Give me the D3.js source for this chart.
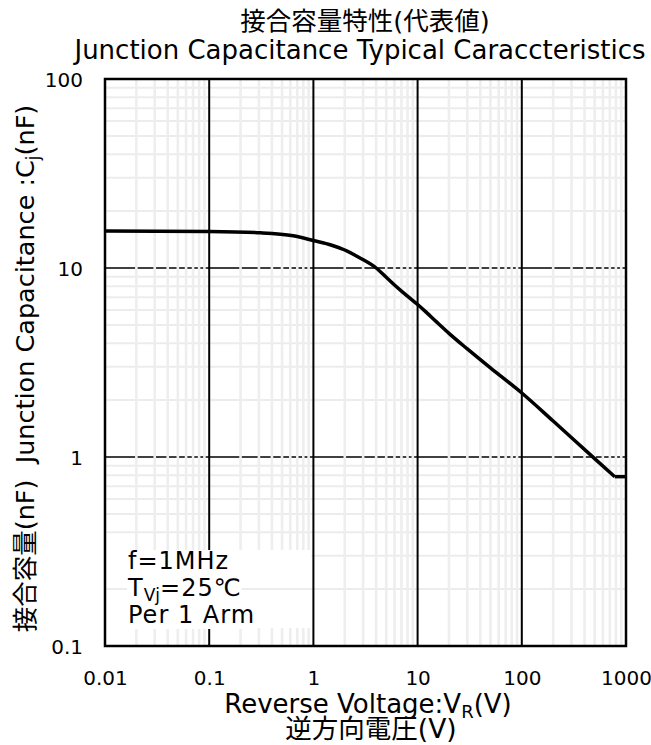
<!DOCTYPE html>
<html>
<head>
<meta charset="utf-8">
<script src="https://cdn.jsdelivr.net/npm/d3@7"></script>
<style>
  body { margin: 0; background: #fff; }
  text { font-family: "DejaVu Sans", "Noto Sans CJK JP", sans-serif; fill: #000; white-space: pre; }
</style>
</head>
<body>
<svg id="chart"></svg>
<script>
// reverse voltage (V) and junction capacitance (nF)
const voltage = [0.01, 0.1, 0.31, 0.64, 1, 1.5, 2, 2.8, 4, 5, 6, 7, 8, 10, 12, 15, 20, 30, 50, 100, 200, 500, 780, 1000];
const capacitance = [15.7, 15.6, 15.35, 14.8, 13.97, 13.2, 12.45, 11.3, 10.0, 8.93, 8.13, 7.55, 7.1, 6.41, 5.86, 5.22, 4.51, 3.73, 2.96, 2.18, 1.55, 0.98, 0.787, 0.787];

const xTicks = [0.01, 0.1, 1, 10, 100, 1000];
const yTicks = [0.1, 1, 10, 100];
const xTickLabels = ["0.01", "0.1", "1", "10", "100", "1000"];
const yTickLabels = ["0.1", "1", "10", "100"];
const conditions = ["f=1MHz", "T|Vj|=25℃", "Per 1 Arm"];

const canvWidth = 651;
const canvHeight = 745;
const margin = { top: 79, right: 25, bottom: 99, left: 105 };
const width = canvWidth - margin.left - margin.right;
const height = canvHeight - margin.top - margin.bottom;

const svg = d3.select("#chart")
    .attr("width", canvWidth)
    .attr("height", canvHeight);

const x = d3.scaleLog().domain([0.01, 1000]).range([margin.left, margin.left + width]);
const y = d3.scaleLog().domain([0.1, 100]).range([margin.top + height, margin.top]);

// minor values 2..9 in every decade
function minors(lo, hi) {
    const out = [];
    for (let p = lo; p < hi; p *= 10) {
        for (let k = 2; k <= 9; k++) out.push(+(k * p).toPrecision(3));
    }
    return out;
}
const xMinor = minors(0.01, 1000);
const yMinor = minors(0.1, 100);

const grid = svg.append("g");

// horizontal minor grid
grid.selectAll(".hmin").data(yMinor).enter().append("line")
    .attr("x1", x(0.01)).attr("x2", x(1000))
    .attr("y1", d => y(d)).attr("y2", d => y(d))
    .attr("stroke", "#ececec").attr("stroke-width", 2);

// horizontal major grid (black, broken by the vertical minor lines drawn after it)
grid.selectAll(".hmaj").data([1, 10]).enter().append("line")
    .attr("x1", x(0.01)).attr("x2", x(1000))
    .attr("y1", d => y(d)).attr("y2", d => y(d))
    .attr("stroke", "#000").attr("stroke-width", 1.6);

// vertical minor grid
grid.selectAll(".vmin").data(xMinor).enter().append("line")
    .attr("x1", d => x(d)).attr("x2", d => x(d))
    .attr("y1", y(100)).attr("y2", y(0.1))
    .attr("stroke", "#eeeeee").attr("stroke-width", 2.6);

// vertical major grid
grid.selectAll(".vmaj").data([0.1, 1, 10, 100]).enter().append("line")
    .attr("x1", d => x(d)).attr("x2", d => x(d))
    .attr("y1", y(100)).attr("y2", y(0.1))
    .attr("stroke", "#000").attr("stroke-width", 2);

// conditions box
const box = svg.append("g");
box.append("rect")
    .attr("x", x(0.01)).attr("y", 550)
    .attr("width", x(1) - 2 - x(0.01)).attr("height", 78)
    .attr("fill", "#fff");
box.append("line")
    .attr("x1", x(0.01)).attr("x2", x(1) - 2)
    .attr("y1", y(0.2)).attr("y2", y(0.2))
    .attr("stroke", "#ececec").attr("stroke-width", 2);

const condText = box.selectAll(".cond").data(conditions).enter().append("text")
    .attr("x", 128)
    .attr("y", (d, i) => 569 + i * 27)
    .style("font-size", "24px")
    .style("letter-spacing", "1px");
condText.each(function (d) {
    const t = d3.select(this);
    const parts = d.split("|");
    if (parts.length === 1) { t.text(d); return; }
    t.append("tspan").text(parts[0]);
    t.append("tspan").attr("dy", 5).style("font-size", "17px").style("letter-spacing", "0px").text(parts[1]);
    t.append("tspan").attr("dy", -5).text(parts[2]);
});
condText.each(function () {
    const b = this.getBBox();
    box.insert("rect", "text")
        .attr("x", b.x).attr("y", b.y + 4)
        .attr("width", b.width).attr("height", b.height - 4)
        .attr("fill", "#fff");
});

// plot border
svg.append("rect")
    .attr("x", x(0.01)).attr("y", y(100))
    .attr("width", width).attr("height", height)
    .attr("fill", "none").attr("stroke", "#000").attr("stroke-width", 2.5);

// curve: smooth part, then the flat tail
const data = voltage.map((v, i) => ({ v: v, c: capacitance[i] }));
const line = d3.line().x(d => x(d.v)).y(d => y(d.c));
svg.append("path")
    .datum(data.slice(0, data.length - 1))
    .attr("fill", "none")
    .attr("stroke", "#000")
    .attr("stroke-width", 3.5)
    .attr("d", line.curve(d3.curveMonotoneX));
svg.append("path")
    .datum(data.slice(data.length - 2))
    .attr("fill", "none")
    .attr("stroke", "#000")
    .attr("stroke-width", 3.5)
    .attr("d", line.curve(d3.curveLinear));

// axes (labels only, lines are the grid)
const xAxis = svg.append("g")
    .attr("transform", "translate(0," + (y(0.1) + 39) + ")")
    .call(d3.axisBottom(x).tickValues(xTicks).tickFormat((d, i) => xTickLabels[i]).tickSize(0));
const yAxis = svg.append("g")
    .attr("transform", "translate(" + (x(0.01) - 22) + ",0)")
    .call(d3.axisLeft(y).tickValues(yTicks).tickFormat((d, i) => yTickLabels[i]).tickSize(0));
[xAxis, yAxis].forEach(a => {
    a.select(".domain").remove();
    a.selectAll("text").style("font-size", "20px").style("font-family", "'DejaVu Sans', sans-serif");
});
xAxis.selectAll("text").attr("dy", 0).attr("y", 0);
yAxis.selectAll("text").attr("x", 0).attr("dy", "0.36em");

// titles
svg.append("text")
    .attr("x", 365).attr("y", 30)
    .attr("text-anchor", "middle").style("font-size", "25.5px")
    .text("接合容量特性(代表値)");
svg.append("text")
    .attr("x", 360).attr("y", 59)
    .attr("text-anchor", "middle").style("font-size", "26px")
    .text("Junction Capacitance Typical Caraccteristics");

// x axis title
const xt = svg.append("text")
    .attr("x", 368).attr("y", 713)
    .attr("text-anchor", "middle").style("font-size", "26px");
xt.append("tspan").text("Reverse Voltage:V");
xt.append("tspan").attr("dy", 5).style("font-size", "18px").text("R");
xt.append("tspan").attr("dy", -5).text("(V)");
svg.append("text")
    .attr("x", 371).attr("y", 738)
    .attr("text-anchor", "middle").style("font-size", "26.5px")
    .text("逆方向電圧(V)");

// y axis title
const yt = svg.append("text")
    .attr("transform", "translate(34," + ((y(0.1) + y(100)) / 2 + 6) + ") rotate(-90)")
    .attr("text-anchor", "middle").style("font-size", "25.5px");
yt.append("tspan").text("接合容量(nF)  Junction Capacitance :C");
yt.append("tspan").attr("dy", 5).style("font-size", "17px").text("j");
yt.append("tspan").attr("dy", -5).text("(nF)");
</script>
</body>
</html>
